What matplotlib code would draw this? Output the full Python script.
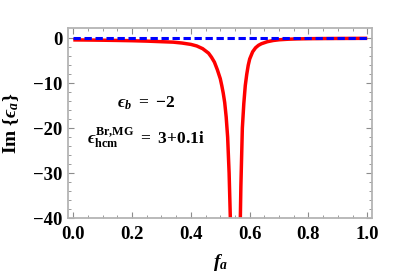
import numpy as np
import matplotlib
matplotlib.use("Agg")
import matplotlib.pyplot as plt

plt.rcParams['font.family'] = ['Liberation Serif', 'DejaVu Serif']
plt.rcParams['font.weight'] = 'bold'
plt.rcParams['mathtext.fontset'] = 'custom'
plt.rcParams['mathtext.rm'] = 'Liberation Serif:bold'
plt.rcParams['mathtext.it'] = 'Liberation Serif:italic:bold'
plt.rcParams['mathtext.bf'] = 'Liberation Serif:bold'
plt.rcParams['mathtext.fallback'] = 'stix'

# red curve (values below -40 are hidden by the frame)
f_red = [0.0, 0.05, 0.10, 0.15, 0.20, 0.25, 0.30, 0.34, 0.37, 0.40,
         0.42, 0.44, 0.45, 0.46, 0.47, 0.48, 0.49, 0.50, 0.505, 0.51,
         0.515, 0.52, 0.525, 0.53, 0.535, 0.54, 0.545, 0.55, 0.555, 0.56,
         0.565, 0.57, 0.575, 0.58, 0.585, 0.59, 0.595, 0.60, 0.61, 0.62,
         0.63, 0.64, 0.66, 0.68, 0.70, 0.73, 0.76, 0.80, 0.85, 0.90,
         0.95, 1.00]
im_red = [-0.35, -0.38, -0.42, -0.47, -0.53, -0.62, -0.75, -0.85, -1.05, -1.35,
          -1.7, -2.3, -2.8, -3.3, -4.2, -5.3, -7.0, -9.0, -10.5, -12.2,
          -14.3, -17.5, -22, -30, -42, -55, -70, -85, -84, -72,
          -52, -33, -20, -14.5, -10.5, -8.0, -6.0, -4.6, -3.0, -2.1,
          -1.55, -1.2, -0.75, -0.48, -0.32, -0.2, -0.13, -0.08, -0.05, -0.03,
          -0.015, 0.0]

# blue dashed curve
f_blue = [0.0, 1.0]
im_blue = [0.0, 0.0]

xticks = [0.0, 0.2, 0.4, 0.6, 0.8, 1.0]
yticks = [0, -10, -20, -30, -40]

eps = '\u03f5'

fig = plt.figure(figsize=(4.02, 2.74), dpi=100)
ax = fig.add_axes([68/402, 1-218/274, 304/402, 190/274])

ax.plot(f_red, im_red, color='#ff0000', lw=2.5, solid_capstyle='butt')
ax.plot(f_blue, im_blue, color='#0000ff', lw=2.2, dashes=(2.4, 1.2))

ax.set_xlim(-0.018, 1.016)
ax.set_ylim(-40, 2.3)
ax.set_xticks(xticks)
ax.set_xticklabels(['%.1f' % v for v in xticks])
ax.set_yticks(yticks)
ax.set_xticks(np.arange(0, 1.001, 0.05), minor=True)
ax.set_yticks(np.arange(-40, 0.1, 2), minor=True)

for s in ax.spines.values():
    s.set_color('#b4b4b4')
    s.set_linewidth(1.3)
ax.tick_params(which='both', direction='in', top=True, right=True,
               color='#8c8c8c', labelsize=13.5, pad=4)
ax.tick_params(which='major', length=4, width=0.8)
ax.tick_params(which='minor', length=2.2, width=0.6)
ax.tick_params(axis='x', pad=6)
for lab in ax.get_xticklabels() + ax.get_yticklabels():
    lab.set_fontweight('bold')

ax.set_xlabel(r'$f_a$', fontsize=14, labelpad=6)
ax.set_ylabel(r'$\mathrm{Im}\ \{' + eps + r'_a\}$', fontsize=14, labelpad=9)

ax.text(0.247, -14.4, '$' + eps + r'_b\ =\ {-}2$', fontsize=12.5,
        ha='center', va='center')
ax.text(0.246, -22.0,
        '$' + eps + r'_{\mathrm{hcm}}^{\mathrm{Br{,}MG}}\ =\ 3\!+\!0.1\mathrm{i}$',
        fontsize=12.5, ha='center', va='center')

fig.savefig('out.png', dpi=100)
